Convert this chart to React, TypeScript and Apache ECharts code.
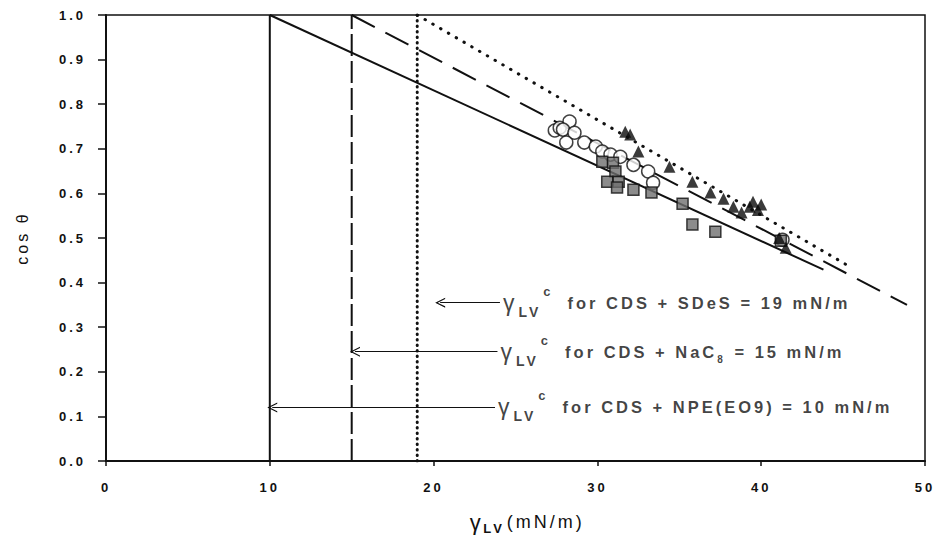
import React, { useEffect, useRef } from "react";
import * as echarts from "echarts";

// Contact angle data: cos θ against liquid surface tension γLV (mN/m)
const openCircles: [number, number][] = [
  [27.4, 0.741], [27.7, 0.747], [28.3, 0.761], [27.9, 0.743], [28.6, 0.736],
  [28.1, 0.714], [29.2, 0.714], [29.9, 0.705], [30.3, 0.694], [30.8, 0.687],
  [31.4, 0.682], [32.2, 0.664], [33.1, 0.649], [33.4, 0.624], [41.3, 0.496],
];
const graySquares: [number, number][] = [
  [30.3, 0.671], [30.95, 0.669], [31.1, 0.649], [30.6, 0.626], [31.3, 0.626],
  [31.2, 0.613], [32.2, 0.608], [33.3, 0.602], [35.2, 0.577], [35.8, 0.53],
  [37.2, 0.514], [41.2, 0.494],
];
const blackTriangles: [number, number][] = [
  [31.7, 0.738], [32.0, 0.732], [32.5, 0.694], [34.4, 0.66], [35.8, 0.626],
  [36.9, 0.602], [37.7, 0.588], [38.3, 0.57], [38.8, 0.557], [39.3, 0.57],
  [39.5, 0.581], [39.8, 0.563], [40.0, 0.575], [41.1, 0.5], [41.5, 0.478],
];

// Critical surface tensions and Zisman fit lines (solid, dashed, dotted)
const surfactantName = ["NPE(EO9)", "NaC", "SDeS"];
const surfactantSub = ["", "8", ""];
const criticalTension = [10, 15, 19];
const fitEnd: [number, number][] = [[43.8, 0.429], [48.9, 0.35], [45.3, 0.438]];
const lineKinds = ["solid", "dashed", "dotted"];

// Annotation arrows
const arrowY = [0.12, 0.245, 0.355];
const arrowTipX = [10.15, 15.2, 20.4];
const arrowTailX = [23.75, 23.9, 24.05];

const xMin = 0, xMax = 50, xStep = 10;
const yMin = 0, yMax = 1, yStep = 0.1;

const FONT = "'Liberation Sans', Arial, sans-serif";
const INK = "#111111";
const LS = 3; // letter spacing applied to all chart text (px)
const chevron = "path://M5,0 L9.6,10 L8.4,10 L5,2.6 L1.6,10 L0.4,10 Z";

// rich-text tokens are laid out without letter spacing, so widen each by its extra advance
const spaced = (s: string, extra = 0, left = 0) => [0, s.length * LS + extra, 0, left];

function lineStyleFor(kind: string, vertical: boolean): any {
  if (kind === "dashed") return { width: 2, type: vertical ? [22, 5] : [26, 12], cap: "butt" };
  if (kind === "dotted") return { width: 3, type: vertical ? [0.5, 5] : [0.5, 8.5], cap: "round" };
  return { width: 2, type: "solid", cap: "butt" };
}

export default function App() {
  const ref = useRef<HTMLDivElement>(null);

  useEffect(() => {
    if (!ref.current) return;
    const chart = echarts.init(ref.current, undefined, { renderer: "svg" });

    const guideSeries: any[] = [];
    criticalTension.forEach((gc, i) => {
      const kind = lineKinds[i];
      guideSeries.push({
        type: "line",
        name: surfactantName[i] + " critical",
        data: [[gc, yMin], [gc, yMax]],
        symbol: "none",
        silent: true,
        z: 2,
        lineStyle: { color: INK, ...lineStyleFor(kind, true) },
      });
      guideSeries.push({
        type: "line",
        name: surfactantName[i] + " fit",
        data: [[gc, 1.0], fitEnd[i]],
        symbol: "none",
        silent: true,
        z: 2,
        lineStyle: { color: INK, ...lineStyleFor(kind, false) },
      });
    });

    const arrows = {
      type: "lines",
      coordinateSystem: "cartesian2d",
      silent: true,
      z: 3,
      symbol: ["none", chevron],
      symbolSize: 10,
      lineStyle: { color: INK, width: 1, opacity: 1 },
      data: arrowY.map((y, i) => ({ coords: [[arrowTailX[i], y], [arrowTipX[i], y]] })),
    };

    const body = { fontSize: 16.5, fontWeight: "bold", fontFamily: FONT, color: INK, lineHeight: 40 };
    const rich: Record<string, any> = {
      g: { fontSize: 23, fontFamily: FONT, color: INK, lineHeight: 40, padding: spaced("γ", 1) },
      s: { fontSize: 14, fontWeight: "bold", fontFamily: FONT, color: INK, verticalAlign: "bottom", padding: [0, 2 * LS + 2, 4, 0] },
      c: { fontSize: 13, fontWeight: "bold", fontFamily: FONT, color: INK, verticalAlign: "top", padding: [2, LS + 14, 0, 0] },
      n: { fontSize: 10, fontWeight: "bold", fontFamily: FONT, color: INK, verticalAlign: "bottom", padding: [0, LS + 1, 7, 0] },
    };
    const labelText: string[] = criticalTension.map((gc, i) => {
      const tail = ` = ${gc} mN/m`;
      let head = `for CDS + ${surfactantName[i]}`;
      if (!surfactantSub[i]) {
        head += tail;
        rich[`h${i}`] = { ...body };
        return `{g|γ}{s|LV}{c|c}{h${i}|${head}}`;
      }
      rich[`h${i}`] = { ...body, padding: spaced(head) };
      rich[`t${i}`] = { ...body };
      return `{g|γ}{s|LV}{c|c}{h${i}|${head}}{n|${surfactantSub[i]}}{t${i}|${tail}}`;
    });

    const annotations = {
      type: "scatter",
      silent: true,
      symbolSize: 0,
      z: 4,
      data: arrowY.map((y, i) => [arrowTailX[i], y]),
      label: {
        show: true,
        position: "right",
        distance: 3,
        formatter: (p: any) => labelText[p.dataIndex],
        rich,
      },
    };

    chart.setOption({
      animation: false,
      backgroundColor: "#ffffff",
      grid: {
        left: 106, right: 11, top: 15, bottom: 88,
        show: true, borderColor: INK, borderWidth: 1.5, backgroundColor: "transparent",
      },
      xAxis: {
        type: "value",
        min: xMin, max: xMax, interval: xStep,
        splitLine: { show: false },
        axisLine: { lineStyle: { color: INK, width: 2 } },
        axisTick: { show: true, length: 5, lineStyle: { color: INK, width: 1.5 } },
        axisLabel: { color: INK, fontSize: 13, fontWeight: "bold", fontFamily: FONT, margin: 20 },
        name: "{g|γ}{s|LV}{t|(mN/m)}",
        nameLocation: "middle",
        nameGap: 45,
        nameTextStyle: {
          rich: {
            g: { fontSize: 22, fontFamily: FONT, color: INK, lineHeight: 32, padding: spaced("γ", 1, 16) },
            s: { fontSize: 13, fontWeight: "bold", fontFamily: FONT, color: INK, verticalAlign: "bottom", padding: [0, 2 * LS + 8, 3, 0] },
            t: { fontSize: 18, fontFamily: FONT, color: INK, lineHeight: 32 },
          },
        },
      },
      yAxis: {
        type: "value",
        min: yMin, max: yMax, interval: yStep,
        splitLine: { show: false },
        axisLine: { lineStyle: { color: INK, width: 2 } },
        axisTick: { show: true, length: 8, lineStyle: { color: INK, width: 1.5 } },
        axisLabel: {
          color: INK, fontSize: 13, fontWeight: "bold", fontFamily: FONT, margin: 20,
          formatter: (v: number) => v.toFixed(1),
        },
        name: "cos θ",
        nameLocation: "middle",
        nameRotate: 90,
        nameGap: 76,
        nameTextStyle: { fontSize: 16, fontFamily: FONT, color: INK },
      },
      series: [
        ...guideSeries,
        arrows,
        {
          type: "scatter", name: "circles", data: openCircles, symbol: "circle", symbolSize: 13, z: 5,
          itemStyle: { color: "#ffffff", borderColor: INK, borderWidth: 1.5 },
        },
        {
          type: "scatter", name: "squares", data: graySquares, symbol: "rect", symbolSize: 11, z: 6,
          itemStyle: { color: "#6f6f6f", borderColor: INK, borderWidth: 1.5 },
        },
        {
          type: "scatter", name: "triangles", data: blackTriangles, symbol: "triangle", symbolSize: 12, z: 7,
          itemStyle: { color: "#0a0a0a" },
        },
        annotations,
      ],
    });

    return () => chart.dispose();
  }, []);

  return (
    <>
      <style>{`#cosplot svg text { letter-spacing: ${LS}px; }`}</style>
      <div
        id="cosplot"
        ref={ref}
        style={{ position: "fixed", left: 0, top: 0, width: 936, height: 549, background: "#fff" }}
      />
    </>
  );
}
